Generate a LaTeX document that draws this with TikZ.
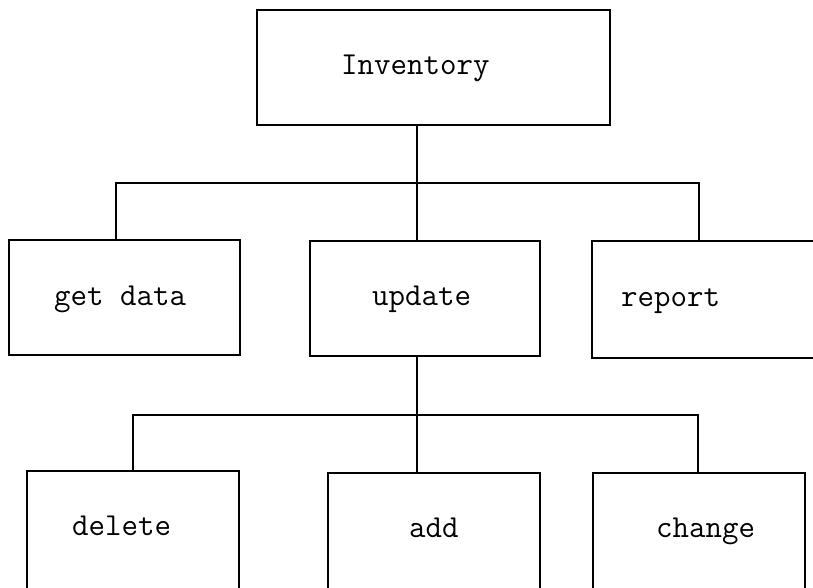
\documentclass[tikz,border=0pt]{standalone}
\usepackage{fontspec}
\begin{document}
\begin{tikzpicture}[x=1pt,y=-1pt,
  boxnode/.style={draw=black,line width=2.5pt,rectangle,inner sep=0pt,fill=none},
  txt/.style={inner sep=0pt,anchor=base west,font=\ttfamily\fontsize{32}{34}\selectfont},
  conn/.style={draw=black,line width=2.3pt}]
\useasboundingbox (0,0) rectangle (813,587);
\clip (0,0) rectangle (813,587);
\fill[white] (0,0) rectangle (813,587);
% boxes
\node[boxnode,minimum width=353pt,minimum height=115pt] (inv) at (433.5,67.5) {};
\node[boxnode,minimum width=231pt,minimum height=115pt] (get) at (124.5,297.5) {};
\node[boxnode,minimum width=230pt,minimum height=115pt] (upd) at (425,298.5) {};
\node[boxnode,minimum width=238pt,minimum height=117pt] (rep) at (711,299.5) {};
\node[boxnode,minimum width=212pt,minimum height=140pt] (del) at (133,541) {};
\node[boxnode,minimum width=212pt,minimum height=140pt] (add) at (434,543) {};
\node[boxnode,minimum width=212pt,minimum height=140pt] (chg) at (699,543) {};
% texts
\node[txt] (invt) at (341,74) {Inventory};
\node[txt] (gett) at (54,305) {get data};
\node[txt] (updt) at (372,305) {update};
\node[txt] (rept) at (621,306) {report};
\node[txt] (delt) at (72,535) {delete};
\node[txt] (addt) at (409,537) {add};
\node[txt] (chgt) at (656,537) {change};
% bus coordinates
\coordinate (b1l) at (116,183);
\coordinate (b1m) at (417,183);
\coordinate (b1r) at (699,183);
\coordinate (b2l) at (133,415);
\coordinate (b2m) at (417,415);
\coordinate (b2r) at (698,415);
% connectors
\draw[conn] (b1m |- inv.south) -- (b1m);
\draw[conn] (b1l |- get.north) -- (b1l) -- (b1r) -- (b1r |- rep.north);
\draw[conn] (b1m) -- (b1m |- upd.north);
\draw[conn] (b2m |- upd.south) -- (b2m);
\draw[conn] (b2l |- del.north) -- (b2l) -- (b2r) -- (b2r |- chg.north);
\draw[conn] (b2m) -- (b2m |- add.north);
\end{tikzpicture}
\end{document}
